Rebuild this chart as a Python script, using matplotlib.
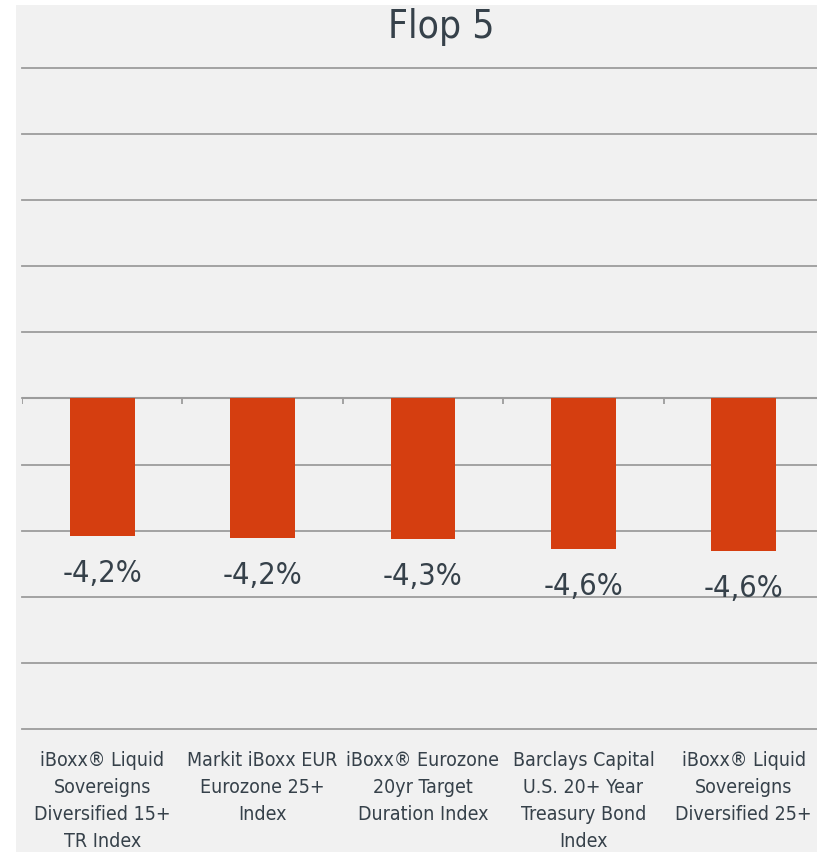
import matplotlib.pyplot as plt
import matplotlib.patches as mpatches
import numpy as np

plt.rcParams['font.family'] = ['DejaVu Sans']
plt.rcParams['font.stretch'] = 'condensed'

# data
categories = [
    "iBoxx® Liquid\nSovereigns\nDiversified 15+\nTR Index",
    "Markit iBoxx EUR\nEurozone 25+\nIndex",
    "iBoxx® Eurozone\n20yr Target\nDuration Index",
    "Barclays Capital\nU.S. 20+ Year\nTreasury Bond\nIndex",
    "iBoxx® Liquid\nSovereigns\nDiversified 25+",
]
values = [-4.16, -4.22, -4.26, -4.56, -4.62]
value_labels = ["-4,2%", "-4,2%", "-4,3%", "-4,6%", "-4,6%"]
title = "Flop 5"

bar_color = "#D53E10"
bg_color = "#F1F1F1"
grid_color = "#9C9C9C"
text_color = "#36414A"

W, H = 817, 852
fig = plt.figure(figsize=(W / 100, H / 100), dpi=100)
fig.patch.set_facecolor("white")
# gray chart panel
fig.patches.append(mpatches.Rectangle((16 / W, 0), 1, (H - 5) / H,
                                      transform=fig.transFigure,
                                      facecolor=bg_color, edgecolor="none", zorder=-10))

ax = fig.add_axes([22 / W, 123 / H, 802 / W, 661 / H])
ax.set_facecolor("none")

x = np.arange(len(categories))
ax.bar(x, values, width=0.405, color=bar_color, zorder=3)

ax.set_xlim(-0.5, len(categories) - 0.5)
ax.set_ylim(-10, 10)
ax.set_yticks(np.arange(-10, 11, 2))
ax.yaxis.grid(True, color=grid_color, linewidth=1.3, zorder=1)
for gl in ax.get_ygridlines():
    gl.set_clip_on(False)
ax.tick_params(axis="y", left=False, labelleft=False)

# zero line with category separators
ax.axhline(0, color=grid_color, linewidth=1.5, zorder=2)
bounds = np.arange(len(categories) + 1) - 0.5
ax.vlines(bounds, -0.18, 0, color=grid_color, linewidth=1.3, zorder=2)

for s in ["top", "right", "left", "bottom"]:
    ax.spines[s].set_visible(False)

ax.set_xticks(x)
ax.set_xticklabels(categories, fontsize=14, color=text_color, linespacing=1.52,
                   va="top")
ax.tick_params(axis="x", length=0, pad=16)

for xi, v, lab in zip(x, values, value_labels):
    ax.annotate(lab, (xi, v), xytext=(0, -27), textcoords="offset points",
                ha="center", va="center", fontsize=22, color=text_color)

fig.text(441 / W, (H - 38) / H, title, ha="center", va="baseline",
         fontsize=28, color=text_color)

fig.savefig("out.png", dpi=100)
